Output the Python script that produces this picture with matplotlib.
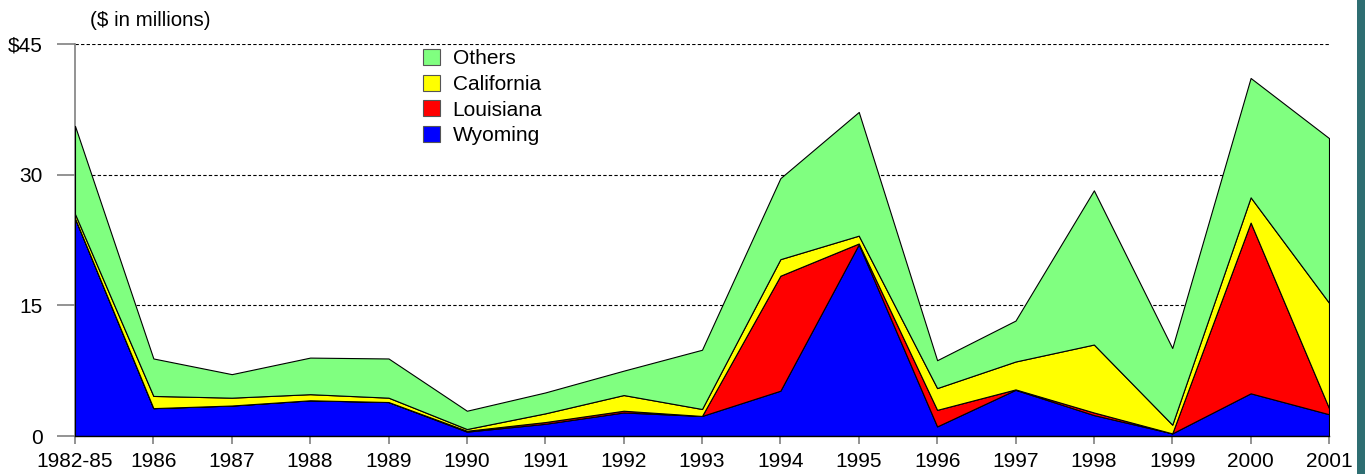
import matplotlib
matplotlib.use("Agg")
import matplotlib.pyplot as plt
from matplotlib.patches import Rectangle, Patch
import numpy as np

plt.rcParams['font.family'] = ['Liberation Sans', 'DejaVu Sans']

years = ["1982-85", "1986", "1987", "1988", "1989", "1990", "1991", "1992", "1993",
         "1994", "1995", "1996", "1997", "1998", "1999", "2000", "2001"]
wyoming    = [25.0, 3.2, 3.5, 4.1, 3.9, 0.5, 1.4, 2.7, 2.3, 5.2, 22.0, 1.1, 5.3, 2.4, 0.3, 4.9, 2.5]
louisiana  = [0.0, 0.0, 0.0, 0.0, 0.0, 0.1, 0.2, 0.2, 0.0, 13.2, 0.1, 1.9, 0.05, 0.3, 0.0, 19.6, 0.7]
california = [0.5, 1.4, 0.9, 0.7, 0.5, 0.2, 1.0, 1.8, 0.8, 1.9, 0.9, 2.5, 3.2, 7.8, 1.0, 2.9, 12.1]
others     = [10.1, 4.3, 2.7, 4.2, 4.5, 2.1, 2.4, 2.8, 6.8, 9.3, 14.2, 3.2, 4.7, 17.7, 8.8, 13.7, 18.9]

series = [("Wyoming", wyoming, "#0000FF"),
          ("Louisiana", louisiana, "#FF0000"),
          ("California", california, "#FFFF00"),
          ("Others", others, "#80FF80")]

W, H = 1365, 474
fig = plt.figure(figsize=(W / 100, H / 100), dpi=100)
ax = fig.add_axes([75 / W, 1 - 436 / H, (1329 - 75) / W, (436 - 44) / H])

x = np.arange(len(years))
base = np.zeros(len(years))
for name, vals, col in series:
    top = base + np.array(vals)
    ax.fill_between(x, base, top, facecolor=col, edgecolor='black', linewidth=0.8, zorder=3)
    base = top

for yv in [15, 30, 45]:
    ax.axhline(yv, color='black', linestyle=(0, (3, 2)), linewidth=0.8, zorder=1)

ax.set_xlim(0, len(years) - 1)
ax.set_ylim(0, 45)
ax.set_xticks(x)
ax.set_xticklabels(years)
ax.set_yticks([0, 15, 30, 45])
ax.set_yticklabels(["0", "15", "30", "$45"])

for s in ['top', 'right']:
    ax.spines[s].set_visible(False)
ax.spines['left'].set_color('#808080')
ax.spines['left'].set_linewidth(1.2)
ax.spines['bottom'].set_color('black')
ax.spines['bottom'].set_linewidth(1.0)
ax.spines['bottom'].set_zorder(4)
ax.tick_params(axis='y', length=13, width=1.2, color='#808080', labelsize=15, pad=10)
ax.tick_params(axis='x', length=5.5, width=1.2, color='#808080', labelsize=15, pad=6)

handles = [Patch(facecolor=c, edgecolor='#555555', linewidth=0.8, label=n)
           for n, v, c in reversed(series)]
leg = ax.legend(handles=handles, loc='upper left',
                bbox_to_anchor=((423 - 75) / (1329 - 75), 1.0 - (49 - 44) / (436 - 44)),
                frameon=False, fontsize=15, handlelength=0.82, handleheight=0.82,
                handletextpad=0.6, labelspacing=0.3, borderaxespad=0, borderpad=0)
leg.set_zorder(5)

fig.text(90 / W, 1 - 21 / H, "($ in millions)", fontsize=14.8, va='center', ha='left')

fig.patches.append(Rectangle((1357 / W, 0), 8 / W, 1, transform=fig.transFigure,
                             facecolor='#2E6E72', edgecolor='none'))

fig.savefig("out.png", dpi=100)
